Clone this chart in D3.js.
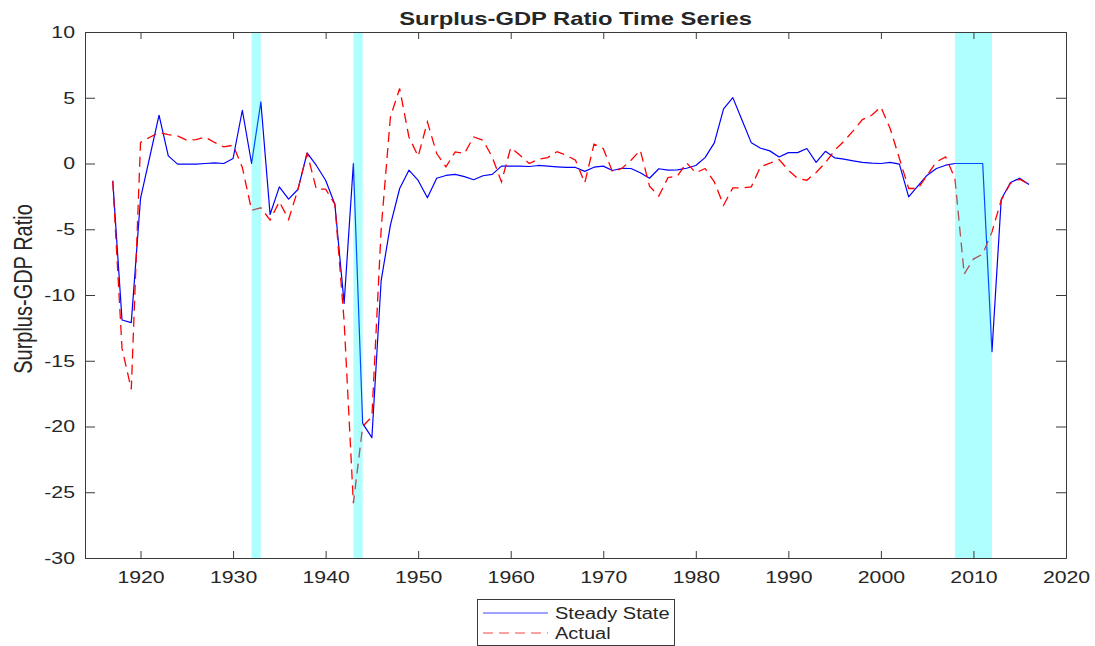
<!DOCTYPE html>
<html>
<head>
<meta charset="utf-8">
<script src="https://cdn.jsdelivr.net/npm/d3@7/dist/d3.min.js"></script>
<style>
  html, body { margin: 0; padding: 0; background: #fff; }
  svg text { font-family: "Liberation Sans", Arial, Helvetica, sans-serif; fill: #262626; }
</style>
</head>
<body>
<svg id="chart" width="1095" height="646"></svg>
<script>
// Annual series, 1917-2016
const years = d3.range(1917, 2017);

const steadyState = [
  -1.3, -11.9, -12.1, -2.66, 0.5, 3.67, 0.58, -0.05, -0.05, -0.05,
  0.0, 0.05, 0.0, 0.38, 4.05, 0.0, 4.68, -3.88, -1.78, -2.71,
  -1.98, 0.8, -0.15, -1.27, -3.1, -10.64, 0.0, -19.76, -20.85, -8.9,
  -4.69, -1.9, -0.51, -1.29, -2.61, -1.12, -0.91, -0.83, -1.0, -1.24,
  -0.93, -0.83, -0.2, -0.2, -0.2, -0.23, -0.15, -0.2, -0.25, -0.3,
  -0.3, -0.6, -0.28, -0.2, -0.53, -0.36, -0.38, -0.7, -1.12, -0.4,
  -0.5, -0.48, -0.36, -0.15, 0.45, 1.57, 4.15, 5.01, 3.29, 1.57,
  1.16, 0.96, 0.5, 0.83, 0.83, 1.14, 0.08, 0.93, 0.43, 0.33,
  0.2, 0.08, 0.03, 0.0, 0.08, -0.05, -2.54, -1.7, -0.89, -0.38,
  -0.13, 0.0, 0.0, 0.0, 0.0, -14.31, -2.74, -1.45, -1.12, -1.6
];

const actual = [
  -1.35, -14.06, -17.17, 1.6, 2.0, 2.35, 2.2, 2.1, 1.77, 1.82,
  2.0, 1.6, 1.26, 1.39, -0.3, -3.55, -3.37, -4.3, -2.9, -4.26,
  -2.0, 0.8, -1.95, -1.95, -3.1, -12.0, -25.84, -20.0, -19.25, -5.0,
  3.54, 5.7, 2.02, 0.55, 3.16, 0.76, -0.26, 0.88, 0.76, 2.02,
  1.77, 0.5, -1.4, 1.2, 0.63, 0.0, 0.33, 0.45, 0.9, 0.63,
  0.25, -1.47, 1.47, 1.14, -0.64, -0.38, 0.25, 1.01, -1.72, -2.48,
  -1.07, -0.97, 0.05, -0.71, -0.38, -1.4, -3.17, -1.85, -1.85, -1.77,
  -0.23, 0.02, 0.3, -0.51, -1.14, -1.27, -0.68, 0.05, 1.01, 1.69,
  2.48, 3.34, 3.67, 4.3, 2.66, 0.38, -1.9, -1.9, -0.89, 0.13,
  0.5, -1.14, -8.41, -7.27, -6.89, -5.2, -2.79, -1.5, -1.2, -1.6
];

// Shaded periods [start, end]
const bandStarts = [1932, 1943, 2008];
const bandEnds   = [1933, 1944, 2012];

const xTicks = d3.range(1920, 2021, 10);
const yTicks = d3.range(-30, 11, 5);

const seriesNames = ["Steady State", "Actual"];
const titleText = "Surplus-GDP Ratio Time Series";
const yLabelText = "Surplus-GDP Ratio";

(function draw() {
  const SX = 1.25;              // horizontal text stretch
  const pL = 85, pR = 1066, pT = 32, pB = 558;
  const axisColor = "#3a3a3a";
  const plainNum = d => String(d);   // ASCII hyphen for negatives

  const svg = d3.select("#chart");

  const x = d3.scaleLinear().domain([1914, 2020]).range([pL, pR]);
  const y = d3.scaleLinear().domain([-30, 10]).range([pB, pT]);

  svg.append("defs").append("clipPath").attr("id", "plotClip")
    .append("rect").attr("x", pL).attr("y", pT)
    .attr("width", pR - pL).attr("height", pB - pT);

  const plot = svg.append("g").attr("clip-path", "url(#plotClip)");

  const lineGen = vals => d3.line()
    .x((d, i) => x(years[i]))
    .y(d => y(d))(vals);

  plot.append("path")
    .attr("d", lineGen(steadyState))
    .attr("fill", "none")
    .attr("stroke", "#0000ff")
    .attr("stroke-width", 1.2)
    .attr("stroke-linejoin", "round");

  plot.append("path")
    .attr("d", lineGen(actual))
    .attr("fill", "none")
    .attr("stroke", "#ff0000")
    .attr("stroke-width", 1.3)
    .attr("stroke-dasharray", "10,6");

  // translucent shaded periods
  plot.selectAll("rect.band")
    .data(bandStarts)
    .join("rect")
    .attr("class", "band")
    .attr("x", d => x(d))
    .attr("width", (d, i) => x(bandEnds[i]) - x(d))
    .attr("y", pT)
    .attr("height", pB - pT)
    .attr("fill", "#00ffff")
    .attr("fill-opacity", 0.31);

  const tickFont = 17;

  function styleAxis(g) {
    g.select(".domain").attr("stroke", axisColor);
    g.selectAll(".tick line").attr("stroke", axisColor);
  }

  const xAxis = svg.append("g")
    .attr("transform", `translate(0,${pB})`)
    .call(d3.axisBottom(x).tickValues(xTicks).tickFormat(plainNum)
      .tickSizeInner(-7).tickSizeOuter(0).tickPadding(13));
  styleAxis(xAxis);
  xAxis.selectAll(".tick text")
    .attr("font-size", tickFont)
    .attr("transform", `scale(${SX},1)`)
    .attr("fill", "#262626");

  const xAxisTop = svg.append("g")
    .attr("transform", `translate(0,${pT})`)
    .call(d3.axisTop(x).tickValues(xTicks).tickFormat("")
      .tickSizeInner(-7).tickSizeOuter(0));
  styleAxis(xAxisTop);

  const yAxis = svg.append("g")
    .attr("transform", `translate(${pL},0)`)
    .call(d3.axisLeft(y).tickValues(yTicks).tickFormat(plainNum)
      .tickSizeInner(-10).tickSizeOuter(0).tickPadding(10));
  styleAxis(yAxis);
  yAxis.selectAll(".tick text")
    .attr("font-size", tickFont)
    .attr("x", -10 / SX)
    .attr("transform", `scale(${SX},1)`)
    .attr("fill", "#262626");

  const yAxisRight = svg.append("g")
    .attr("transform", `translate(${pR},0)`)
    .call(d3.axisRight(y).tickValues(yTicks).tickFormat("")
      .tickSizeInner(-10).tickSizeOuter(0));
  styleAxis(yAxisRight);

  svg.append("text")
    .attr("transform", `translate(${(pL + pR) / 2},25) scale(${SX},1)`)
    .attr("text-anchor", "middle")
    .attr("font-size", 19)
    .attr("font-weight", "bold")
    .attr("fill", "#000")
    .text(titleText);

  svg.append("text")
    .attr("transform", `translate(32,289) scale(${SX},1) rotate(-90)`)
    .attr("text-anchor", "middle")
    .attr("font-size", 20)
    .attr("fill", "#262626")
    .text(yLabelText);

  const legend = svg.append("g");
  legend.append("rect")
    .attr("x", 477.5).attr("y", 599.5)
    .attr("width", 197).attr("height", 46)
    .attr("fill", "#fff")
    .attr("stroke", axisColor)
    .attr("stroke-width", 1);

  const legendRows = [
    { name: seriesNames[0], color: "#0000ff", dash: null, yy: 613 },
    { name: seriesNames[1], color: "#ff0000", dash: "10,6", yy: 633 }
  ];
  legendRows.forEach(r => {
    legend.append("line")
      .attr("x1", 483).attr("x2", 548)
      .attr("y1", r.yy).attr("y2", r.yy)
      .attr("stroke", r.color)
      .attr("stroke-opacity", 0.75)
      .attr("stroke-width", 1)
      .attr("stroke-dasharray", r.dash);
    legend.append("text")
      .attr("transform", `translate(555,${r.yy + 6}) scale(${SX},1)`)
      .attr("font-size", 16)
      .attr("fill", "#000")
      .text(r.name);
  });
})();
</script>
</body>
</html>
